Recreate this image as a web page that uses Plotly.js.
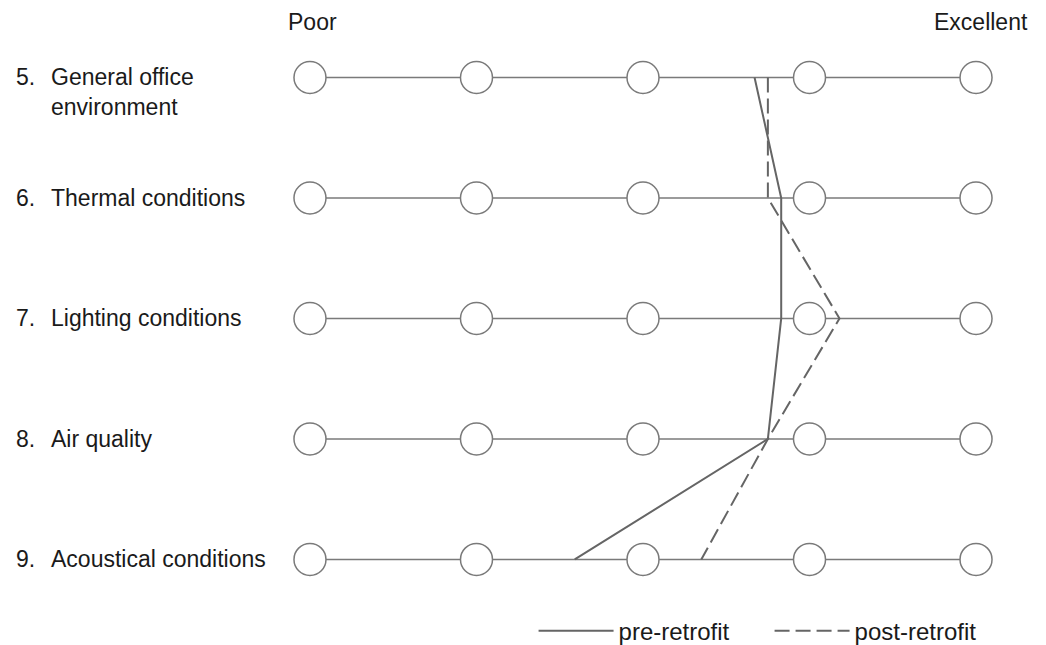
<!DOCTYPE html>
<html>
<head>
<meta charset="utf-8">
<script src="https://cdn.plot.ly/plotly-3.0.1.min.js"></script>
<style>
  body { margin: 0; background: #fff; }
  #plot { width: 1046px; height: 645px; }
</style>
</head>
<body>
<div id="plot"></div>
<script>
// rating rows (top to bottom)
const rowNums = ['5.', '6.', '7.', '8.', '9.'];
const rowNames = ['General office<br>environment', 'Thermal conditions', 'Lighting conditions', 'Air quality', 'Acoustical conditions'];
// rating scale, 1 = poor ... 5 = excellent
const scalePoints = [1, 2, 3, 4, 5];
const scaleEnds = ['Poor', 'Excellent'];
// mean ratings
const preRetrofit = [3.67, 3.83, 3.83, 3.75, 2.59];
const postRetrofit = [3.75, 3.75, 4.18, 3.75, 3.35];

const rowIdx = rowNames.map((n, i) => i);
const grey = '#7a7a7a';
const dark = '#656565';
const font = 'Liberation Sans, Arial, sans-serif';
const txt = '#1a1a1a';

let traces = [];

// scale lines, one per row
rowIdx.forEach(i => {
  traces.push({
    x: [scalePoints[0], scalePoints[scalePoints.length - 1]],
    y: [i, i],
    type: 'scatter',
    mode: 'lines',
    line: { color: grey, width: 1.5 },
    showlegend: false,
    hoverinfo: 'skip'
  });
});

// circles
let cx = [], cy = [];
rowIdx.forEach(i => {
  scalePoints.forEach(p => { cx.push(p); cy.push(i); });
});
traces.push({
  x: cx,
  y: cy,
  type: 'scatter',
  mode: 'markers',
  marker: { symbol: 'circle', size: 32, color: '#ffffff', line: { color: grey, width: 1.5 } },
  showlegend: false,
  hoverinfo: 'skip'
});

traces.push({
  x: preRetrofit,
  y: rowIdx,
  type: 'scatter',
  mode: 'lines',
  name: 'pre-retrofit',
  line: { color: dark, width: 2 }
});

traces.push({
  x: postRetrofit,
  y: rowIdx,
  type: 'scatter',
  mode: 'lines',
  name: 'post-retrofit',
  line: { color: dark, width: 2, dash: '15px,6px' }
});

let annotations = [];
rowIdx.forEach(i => {
  annotations.push({
    xref: 'paper', yref: 'y',
    x: -0.391, y: i,
    xanchor: 'left', yanchor: 'middle',
    text: rowNums[i],
    showarrow: false,
    font: { family: font, size: 23, color: txt }
  });
  annotations.push({
    xref: 'paper', yref: 'y',
    x: -0.3414, y: i,
    xanchor: 'left', yanchor: 'top', yshift: 15,
    align: 'left',
    text: rowNames[i],
    showarrow: false,
    font: { family: font, size: 23, color: txt }
  });
});
annotations.push({
  xref: 'x', yref: 'paper',
  x: scalePoints[0], y: 1,
  xanchor: 'center', yanchor: 'middle', yshift: 35, xshift: 3,
  text: scaleEnds[0],
  showarrow: false,
  font: { family: font, size: 23, color: txt }
});
annotations.push({
  xref: 'x', yref: 'paper',
  x: scalePoints[scalePoints.length - 1], y: 1,
  xanchor: 'center', yanchor: 'middle', yshift: 35, xshift: 5,
  text: scaleEnds[1],
  showarrow: false,
  font: { family: font, size: 23, color: txt }
});

const layout = {
  width: 1046,
  height: 645,
  margin: { l: 290, r: 50, t: 57, b: 20, autoexpand: false },
  paper_bgcolor: '#ffffff',
  plot_bgcolor: '#ffffff',
  showlegend: true,
  legend: {
    orientation: 'h',
    x: 0.345, y: -0.011,
    xanchor: 'left', yanchor: 'middle',
    itemwidth: 75,
    entrywidth: 146,
    bgcolor: 'rgba(0,0,0,0)',
    font: { family: font, size: 24, color: txt },
    traceorder: 'normal'
  },
  xaxis: {
    range: [0.88, 5.12],
    showgrid: false, zeroline: false, showticklabels: false, showline: false, ticks: ''
  },
  yaxis: {
    range: [4.544, -0.17],
    showgrid: false, zeroline: false, showticklabels: false, showline: false, ticks: ''
  },
  annotations: annotations
};

Plotly.newPlot('plot', traces, layout, { staticPlot: true });
</script>
</body>
</html>
